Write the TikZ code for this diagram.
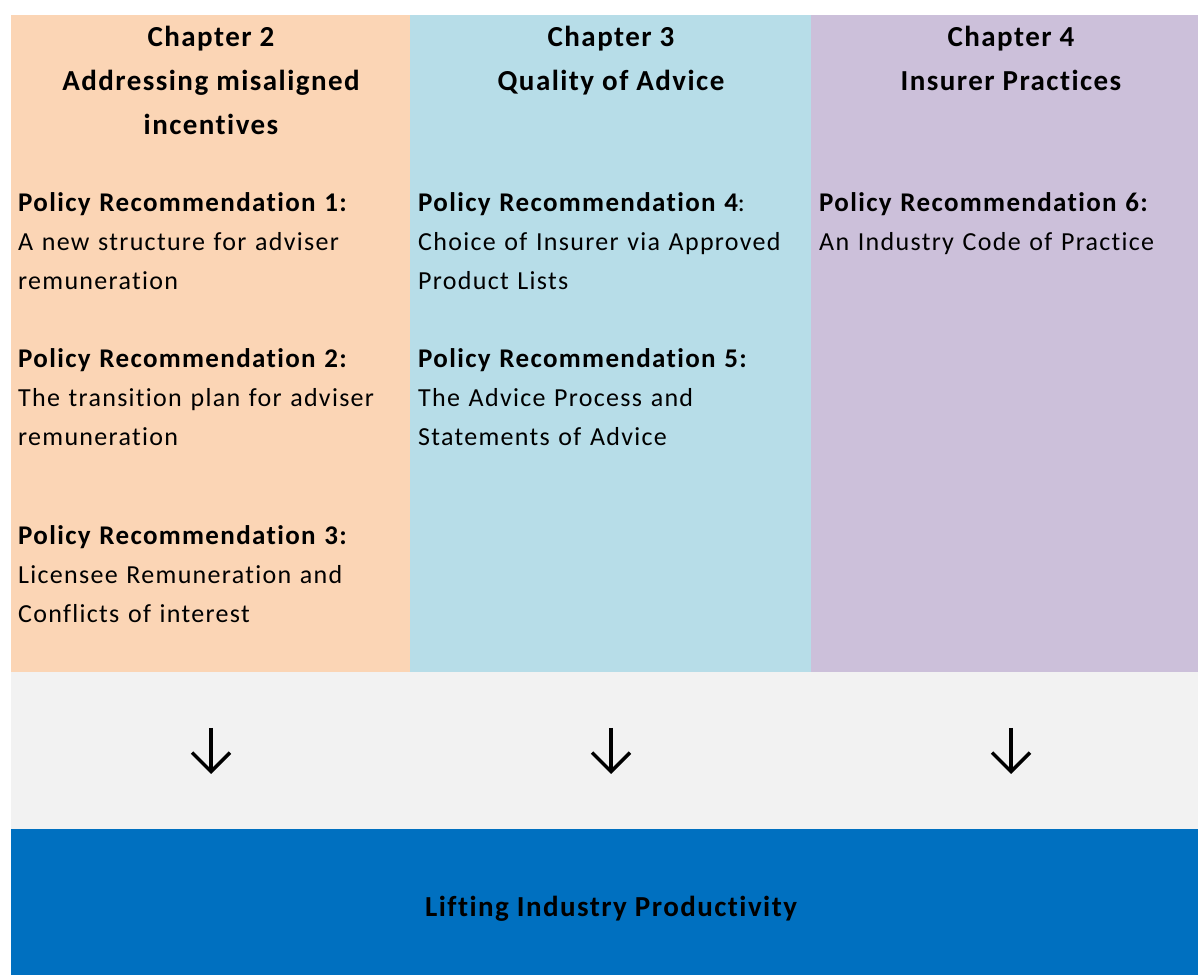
\documentclass[tikz,border=0pt]{standalone}
\usepackage{fontspec}
\setmainfont{Carlito}[Ligatures=NoCommon,LetterSpace=5]
\usetikzlibrary{arrows.meta}
\definecolor{chapA}{HTML}{FBD5B5}
\definecolor{chapB}{HTML}{B7DDE8}
\definecolor{chapC}{HTML}{CCC0DA}
\definecolor{gapgray}{HTML}{F2F2F2}
\definecolor{liftblue}{HTML}{0070C0}
\newcommand{\reclabel}[1]{{\fontsize{27bp}{39bp}\selectfont\bfseries #1}}
\tikzset{
  panel/.style={draw=none,inner sep=0pt,outer sep=0pt,anchor=north west},
  chaphead/.style={anchor=base,align=center,inner sep=0pt,font=\fontsize{29bp}{44bp}\selectfont\bfseries},
  recbox/.style={anchor=base west,align=left,inner sep=0pt,text width=385bp,font=\fontsize{26bp}{39bp}\selectfont},
  downarrow/.style={line width=3.5bp,-{Straight Barb[length=19bp,width=38bp]}},
}
\begin{document}
\begin{tikzpicture}[line join=miter]
\useasboundingbox (0bp,0bp) rectangle (1198bp,975bp);
%%
\node (col2) at (11bp,960bp) [panel,fill=chapA,minimum width=399bp,minimum height=657bp] {};
  \node (col3) at (410bp,960bp) [panel,fill=chapB,minimum width=401bp,minimum height=657bp] {};
  \node (col4) at (811bp,960bp) [panel,fill=chapC,minimum width=387bp,minimum height=657bp] {};
  \node (gap) at (11bp,303bp) [panel,fill=gapgray,minimum width=1187bp,minimum height=157bp] {};
  \node (lift) at (11bp,146bp) [panel,fill=liftblue,minimum width=1187bp,minimum height=146bp] {};
%% base of a centred block sits on its last line
\node (head2) at (211bp,840bp) [chaphead] {Chapter 2\\Addressing misaligned\\incentives};
  \node (head3) at (611bp,884bp) [chaphead] {Chapter 3\\Quality of Advice};
  \node (head4) at (1011bp,884bp) [chaphead] {Chapter 4\\Insurer Practices};
%%
\node (rec1) at (18bp,763bp) [recbox] {\reclabel{Policy Recommendation 1:}\\A new structure for adviser\\remuneration};
  \node (rec2) at (18bp,607bp) [recbox] {\reclabel{Policy Recommendation 2:}\\The transition plan for adviser\\remuneration};
  \node (rec3) at (18bp,430bp) [recbox] {\reclabel{Policy Recommendation 3:}\\Licensee Remuneration and\\Conflicts of interest};
  \node (rec4) at (418bp,763bp) [recbox] {\reclabel{Policy Recommendation 4}:\\Choice of Insurer via Approved\\Product Lists};
  \node (rec5) at (418bp,607bp) [recbox] {\reclabel{Policy Recommendation 5:}\\The Advice Process and\\Statements of Advice};
  \node (rec6) at (819bp,763bp) [recbox] {\reclabel{Policy Recommendation 6:}\\An Industry Code of Practice};
%%
\coordinate (from2) at (211bp,247bp);
  \coordinate (to2) at (211bp,201bp);
  \coordinate (from3) at (611bp,247bp);
  \coordinate (to3) at (611bp,201bp);
  \coordinate (from4) at (1011bp,247bp);
  \coordinate (to4) at (1011bp,201bp);
  \draw [downarrow] (from2) -- (to2);
  \draw [downarrow] (from3) -- (to3);
  \draw [downarrow] (from4) -- (to4);
%%
\node (goal) at (611bp,58bp) [anchor=base,inner sep=0pt,font=\fontsize{29bp}{34bp}\selectfont\bfseries] {Lifting Industry Productivity};
%
\end{tikzpicture}
\end{document}
